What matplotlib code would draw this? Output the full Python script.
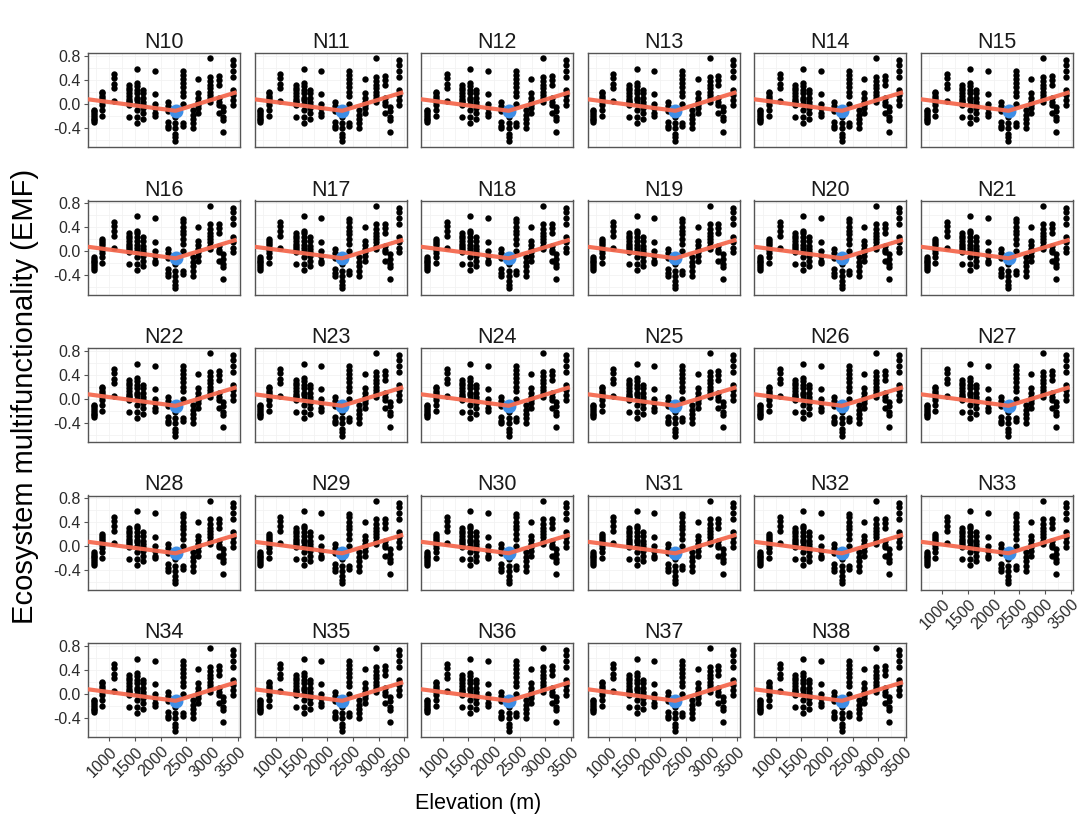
import matplotlib
matplotlib.use("Agg")
import matplotlib.pyplot as plt

plt.rcParams['font.family'] = ['Liberation Sans', 'DejaVu Sans']

# site elevations (m) and EMF values, grouped by elevation column
elev_sites = [695, 864, 1085, 1383, 1539, 1656, 1883, 2143, 2286, 2429,
              2623, 2727, 2955, 3130, 3214, 3403]
emf_groups = [
    [-0.10, -0.13, -0.16, -0.19, -0.22, -0.25, -0.28, -0.31],
    [0.20, 0.17, 0.13, 0.10, 0.06, 0.02, -0.03, -0.10, -0.20],
    [0.49, 0.42, 0.33, 0.26, 0.05],
    [0.31, 0.26, 0.22, 0.17, 0.12, 0.08, 0.05, 0.02, -0.02, -0.22],
    [0.58, 0.34, 0.30, 0.23, 0.17, 0.10, 0.06, 0.00, -0.10, -0.22, -0.32],
    [0.23, 0.17, 0.09, 0.03, -0.02, -0.08, -0.16, -0.25],
    [0.55, 0.16, 0.00, -0.08, -0.16, -0.20],
    [0.03, -0.04, -0.12, -0.30, -0.37, -0.41],
    [-0.10, -0.22, -0.33, -0.41, -0.50, -0.56, -0.62],
    [0.54, 0.48, 0.41, 0.34, 0.28, 0.20, 0.12, 0.00, -0.33, -0.38],
    [-0.10, -0.19, -0.25, -0.33, -0.41],
    [0.41, 0.17, 0.10, 0.03, -0.02, -0.08, -0.16],
    [0.76, 0.45, 0.37, 0.31, 0.26, 0.20, 0.15, 0.09, 0.03],
    [0.46, 0.39, 0.31, 0.09, 0.02, -0.02, -0.16],
    [-0.05, -0.13, -0.22, -0.27, -0.47],
    [0.72, 0.65, 0.55, 0.45, 0.23, 0.15, 0.06, -0.02],
]
elev = [e for e, g in zip(elev_sites, emf_groups) for _ in g]
emf = [v for g in emf_groups for v in g]

# segmented fit: start, breakpoint, end
fit_x = [600, 2290, 3440]
fit_y = [0.07, -0.12, 0.18]
break_x, break_y = 2290, -0.12

panels = ["N%d" % i for i in range(10, 39)]
x_ticks = [1000, 1500, 2000, 2500, 3000, 3500]
y_ticks = [-0.4, 0.0, 0.4, 0.8]
y_minor = [-0.6, -0.2, 0.2, 0.6]
x_minor = [750, 1250, 1750, 2250, 2750, 3250]

W, H = 1080, 831
fig = plt.figure(figsize=(W / 100, H / 100), dpi=100)

ncol = 6
for i, name in enumerate(panels):
    r, c = divmod(i, ncol)
    left = 88 + c * 166.6
    top = 53 + r * 147.5
    ax = fig.add_axes([left / W, 1 - (top + 94) / H, 152 / W, 94 / H])
    for gx in x_minor + x_ticks:
        ax.axvline(gx, color='#f2f2f2', lw=0.6, zorder=0)
    for gy in y_minor + y_ticks:
        ax.axhline(gy, color='#f2f2f2', lw=0.6, zorder=0)
    ax.scatter(elev, emf, s=21, color='black', linewidths=0, zorder=2)
    ax.plot([break_x], [break_y], 'o', ms=9, color='#3d8ee6', zorder=3)
    ax.plot(fit_x, fit_y, color='#f5694f', lw=3.0, alpha=0.95, zorder=4)
    ax.set_xlim(585, 3545)
    ax.set_ylim(-0.725, 0.845)
    ax.set_xticks(x_ticks)
    ax.set_yticks(y_ticks)
    ax.set_title(name, fontsize=15.5, pad=2, color='#1a1a1a')
    for s in ax.spines.values():
        s.set_color('#555555')
        s.set_linewidth(1.0)
    show_x = (i + ncol >= len(panels))
    show_y = (c == 0)
    ax.tick_params(axis='x', bottom=show_x, labelbottom=show_x, length=3,
                   color='#555555', labelsize=11.5, labelcolor='#2a2a2a', pad=2)
    ax.tick_params(axis='y', left=show_y, labelleft=show_y, length=3,
                   color='#555555', labelsize=11.5, labelcolor='#2a2a2a', pad=2)
    if show_x:
        ax.set_xticklabels([str(t) for t in x_ticks], rotation=45, ha='right',
                           va='top', rotation_mode='anchor')
    if show_y:
        ax.set_yticklabels(["%.1f" % t for t in y_ticks])

fig.text(25 / W, 1 - 396 / H, "Ecosystem multifunctionality (EMF)", rotation=90,
         ha='center', va='center', fontsize=21)
fig.text(478 / W, 1 - 803 / H, "Elevation (m)", ha='center', va='center', fontsize=15.5)

fig.savefig("out.png", dpi=100)
